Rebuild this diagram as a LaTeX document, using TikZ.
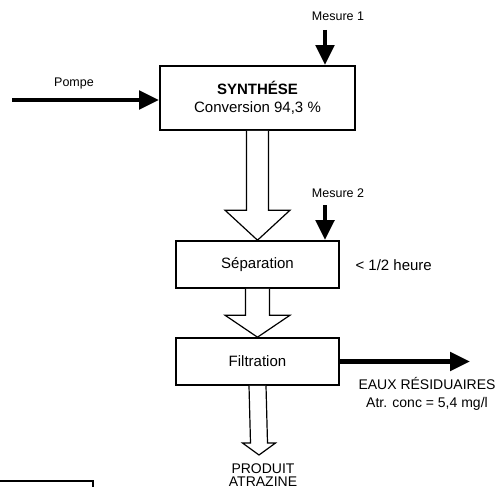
\documentclass[tikz,border=0pt]{standalone}
\usepackage{fontspec}
\setmainfont{Liberation Sans}
\usetikzlibrary{arrows.meta,calc}

\tikzset{
	box/.style={rectangle, draw, line width=1.6pt, fill=white, align=center},
	bigtxt/.style={font=\fontsize{15}{18}\selectfont, align=center},
	smalltxt/.style={font=\fontsize{12.5}{14}\selectfont},
	flow/.style={line width=4.8pt, -{Triangle[length=20pt, width=18pt]}},
	hollow/.style={line width=1.2pt, fill=white, line join=miter}
}

% hollow arrow: from, to, shaft half width, head half width, head length
\newcommand{\hollowarrow}[5]{%
	\draw[hollow] ($(#1)+(-#3,0)$) -- ($(#2)+(-#3,-#5)$) -- ($(#2)+(-#4,-#5)$) -- (#2)
	-- ($(#2)+(#4,-#5)$) -- ($(#2)+(#3,-#5)$) -- ($(#1)+(#3,0)$);}

\begin{document}
\begin{tikzpicture}[x=1pt, y=-1pt]
	
	\useasboundingbox (0,0) rectangle (502,486);
	\clip (0,0) rectangle (502,486);
	
	% Node
	
	\node[box, bigtxt, minimum width=195pt, minimum height=64pt]
	(synth) at (257.5,98) {\textbf{SYNTHÉSE}\\Conversion 94,3 \%};
	\node[box, bigtxt, minimum width=163pt, minimum height=47pt]
	(sep) at (257.5,264.5) {Séparation};
	\node[box, bigtxt, minimum width=163pt, minimum height=47pt]
	(filt) at (257.5,361.5) {Filtration};
	
	% Entry and exit points
	
	\coordinate (pompeIn) at (12,100);
	\coordinate (mesure1In) at (325,30);
	\coordinate (mesure2In) at (325,205);
	\coordinate (eauxOut) at (470,361.5);
	
	% EDGE
	
	\draw[flow] (pompeIn) -- (pompeIn -| synth.west);
	\draw[flow] (mesure1In) -- (mesure1In |- synth.north);
	\draw[flow] (mesure2In) -- (mesure2In |- sep.north);
	\draw[flow] (filt.east) -- (eauxOut);
	
	\hollowarrow{synth.south}{sep.north}{11}{32.5}{30}
	\hollowarrow{sep.south}{filt.north}{12}{32.5}{22}
	\coordinate (produitTip) at (259,455);
	\hollowarrow{filt.south}{produitTip}{8.5}{16.5}{12}
	
	% Labels
	
	\node[smalltxt] (pompeLbl) at (74,83) {Pompe};
	\node[smalltxt] (mesure1Lbl) at (338,16) {Mesure 1};
	\node[smalltxt] (mesure2Lbl) at (338,193) {Mesure 2};
	\node[bigtxt, anchor=west] (heureLbl) at (352,265) {< 1/2 heure};
	\node[font=\fontsize{14}{18}\selectfont, align=center] (eauxLbl) at (427,394)
	{EAUX RÉSIDUAIRES\\Atr. conc = 5,4 mg/l};
	\node[font=\fontsize{14}{13.5}\selectfont, align=center, anchor=north] (produitLbl) at (263,460)
	{PRODUIT\\ATRAZINE};
	
	% cut box in the corner
	\draw[line width=1.4pt] (0,481) -- (93,481) -- (93,495);
	
\end{tikzpicture}
\end{document}
